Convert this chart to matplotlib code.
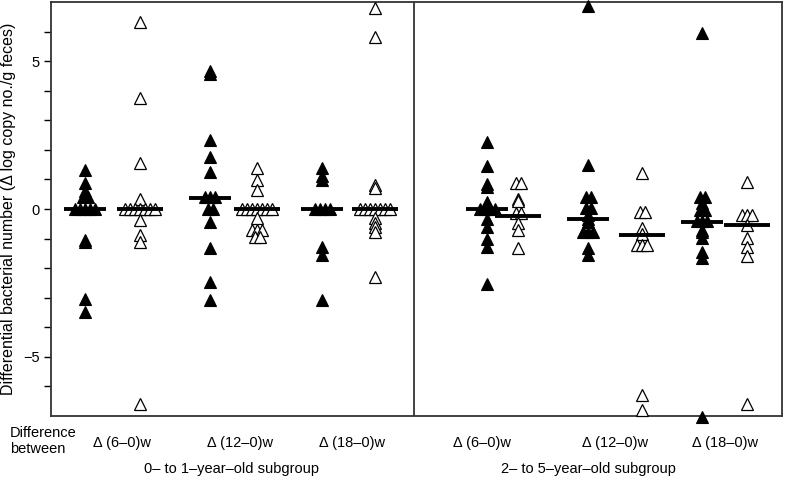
import numpy as np
import matplotlib
matplotlib.use('Agg')
import matplotlib.pyplot as plt

plt.rcParams['font.family'] = ['Liberation Sans', 'DejaVu Sans']

# differences per comparison, filled = one marker, open = the other
g1_filled = [1.32, 0.88, 0.6, 0.4, 0.4, 0, 0, 0, 0, 0, -1.05, -1.1, -3.03, -3.48]
g1_open = [6.34, 3.76, 1.56, 0.34, 0, 0, 0, 0, 0, 0, 0, -0.37, -0.88, -1.12, -6.58]
g2_filled = [4.65, 4.55, 2.34, 1.77, 1.26, 0.4, 0.4, 0.4, 0, 0, -0.43, -1.33, -2.46, -3.08]
g2_open = [1.38, 0.98, 0.64, 0, 0, 0, 0, 0, 0, 0, -0.3, -0.71, -0.71, -0.71, -0.95, -0.95]
g3_filled = [1.38, 1.1, 0.98, 0, 0, 0, 0, -1.28, -1.56, -3.08]
g3_open = [6.8, 5.83, 0.81, 0.71, 0, 0, 0, 0, 0, 0, 0, -0.31, -0.48, -0.6, -0.78, -2.3]
g4_filled = [2.27, 1.45, 0.85, 0.75, 0.25, 0, 0, 0, 0, -0.35, -0.6, -1.0, -1.3, -2.55]
g4_open = [0.88, 0.88, 0.35, 0.28, -0.14, -0.14, -0.48, -0.71, -1.33]
g5_filled = [6.85, 1.49, 0.4, 0.4, 0.05, 0.05, -0.2, -0.34, -0.45, -0.78, -0.78, -0.78, -1.33, -1.56]
g5_open = [1.21, -0.1, -0.1, -0.64, -0.85, -1.22, -1.22, -1.22, -6.3, -6.8]
g6_filled = [5.96, 0.41, 0.41, 0.2, -0.03, -0.03, -0.4, -0.4, -0.4, -0.7, -0.78, -0.98, -1.45, -1.66, -7.05]
g6_open = [0.92, -0.2, -0.2, -0.2, -0.54, -0.98, -1.28, -1.6, -6.58]

median_filled = [0, 0.37, 0, 0, -0.34, -0.43]
median_open = [0, 0, 0, -0.24, -0.88, -0.54]

comparisons = ['\u0394 (6\u20130)w', '\u0394 (12\u20130)w', '\u0394 (18\u20130)w',
               '\u0394 (6\u20130)w', '\u0394 (12\u20130)w', '\u0394 (18\u20130)w']
subgroups = ['0\u2013 to 1\u2013year\u2013old subgroup', '2\u2013 to 5\u2013year\u2013old subgroup']

filled = [g1_filled, g2_filled, g3_filled, g4_filled, g5_filled, g6_filled]
opened = [g1_open, g2_open, g3_open, g4_open, g5_open, g6_open]

# layout (x in pixel-like units across the axes)
x_filled = [34, 159, 271, 436, 537, 651]
x_open = [89, 206, 324, 467, 591, 696]
x_label = [71, 189, 301, 431, 564, 674]
x_sub = [181, 537]

fig = plt.figure(figsize=(7.88, 4.78), dpi=100)
ax = fig.add_axes([51 / 788, 1 - 416 / 478, 731 / 788, 414 / 478])
ax.set_xlim(0, 731)
ax.set_ylim(-7, 7)


def spread(vals, x0, step=5.0):
    vals = np.array(vals, dtype=float)
    xs = np.full(len(vals), float(x0))
    for v in np.unique(vals):
        idx = np.where(vals == v)[0]
        n = len(idx)
        xs[idx] = x0 + (np.arange(n) - (n - 1) / 2) * step
    return xs, vals


for i in range(6):
    xs, ys = spread(filled[i], x_filled[i])
    ax.plot(xs, ys, '^', ms=9, mfc='black', mec='black', mew=0.8,
            ls='none', clip_on=False, zorder=3)
    ax.plot([x_filled[i] - 21, x_filled[i] + 21], [median_filled[i]] * 2,
            color='black', lw=2.8, solid_capstyle='butt', zorder=4)
    xs, ys = spread(opened[i], x_open[i])
    ax.plot(xs, ys, '^', ms=9, mfc='white', mec='black', mew=0.9,
            ls='none', clip_on=False, zorder=3)
    ax.plot([x_open[i] - 23, x_open[i] + 23], [median_open[i]] * 2,
            color='black', lw=2.8, solid_capstyle='butt', zorder=4)

ax.axvline(363, color='#222222', lw=1.2)

for s in ax.spines.values():
    s.set_linewidth(1.3)
    s.set_color('#333333')

ax.set_xticks([])
ax.set_yticks(np.arange(-6, 7))
ax.set_yticklabels(['' if v not in (-5, 0, 5) else str(v).replace('-', '\u2212')
                    for v in range(-6, 7)])
ax.tick_params(axis='y', direction='out', length=5, width=1, labelsize=10.5, pad=3)
ax.set_ylabel('Differential bacterial number (\u0394 log copy no./g feces)',
              fontsize=11.5, labelpad=5)

for xl, lab in zip(x_label, comparisons):
    ax.text(xl, -7.9, lab, ha='center', va='center', fontsize=10.5)
for xs_, lab in zip(x_sub, subgroups):
    ax.text(xs_, -8.8, lab, ha='center', va='center', fontsize=10.5)
fig.text(10 / 788, 1 - 441 / 478, 'Difference\nbetween', ha='left', va='center',
         fontsize=10.5, linespacing=1.25)

fig.savefig('out.png', dpi=100)
